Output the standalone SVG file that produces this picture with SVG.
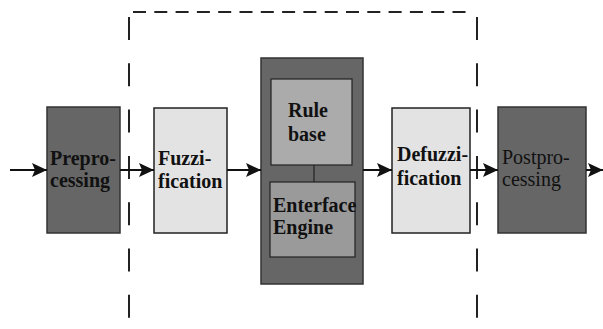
<svg xmlns="http://www.w3.org/2000/svg" width="603" height="329" viewBox="0 0 603 329">
  <defs>
    <marker id="head" markerUnits="userSpaceOnUse" markerWidth="16" markerHeight="16" refX="15" refY="7" orient="auto">
      <path d="M0,0 L15,7 L0,14 L3,7 z" fill="#111"/>
    </marker>
    <style>
      .dark { fill: #666666; stroke: #333333; stroke-width: 1.5; }
      .light { fill: #e3e3e3; stroke: #222222; stroke-width: 1.5; }
      .rule { fill: #ababab; stroke: #222222; stroke-width: 1.2; }
      .engine { fill: #9a9a9a; stroke: #222222; stroke-width: 1.2; }
      .lbl { font-family: "Liberation Serif", "Times New Roman", serif; font-size: 20px; font-weight: bold; fill: #111111; }
      .lbl-n { font-family: "Liberation Serif", "Times New Roman", serif; font-size: 20px; fill: #111111; }
      .flow { stroke: #111111; stroke-width: 2; fill: none; marker-end: url(#head); }
      .dash-v { stroke: #222222; stroke-width: 2; fill: none; stroke-dasharray: 23 23.3; }
      .dash-h { stroke: #222222; stroke-width: 2; fill: none; stroke-dasharray: 13 8.3; }
    </style>
  </defs>

  <rect width="603" height="329" fill="#ffffff"/>

  <!-- fuzzy controller boundary -->
  <g id="boundary">
    <path class="dash-h" d="M133,12 H466"/>
    <path class="dash-v" d="M129,17 V329"/>
    <path class="dash-v" d="M477,17 V329"/>
  </g>

  <g id="preprocessing">
    <rect class="dark" x="47" y="107" width="73" height="126"/>
    <text class="lbl" x="50" y="165">Prepro-</text>
    <text class="lbl" x="50" y="187">cessing</text>
  </g>

  <g id="fuzzification">
    <rect class="light" x="154" y="108" width="73" height="125"/>
    <text class="lbl" x="158" y="165">Fuzzi-</text>
    <text class="lbl" x="158" y="188">fication</text>
  </g>

  <g id="inference">
    <rect class="dark" x="261" y="58" width="102" height="226"/>
    <g id="rule-base">
      <rect class="rule" x="271" y="79" width="81" height="86"/>
      <text class="lbl" x="288" y="117">Rule</text>
      <text class="lbl" x="288" y="141">base</text>
    </g>
    <line x1="314" y1="165" x2="314" y2="182" stroke="#222222" stroke-width="1.2"/>
    <g id="enterface-engine">
      <rect class="engine" x="270" y="182" width="85" height="75"/>
      <text class="lbl" x="273" y="212">Enterface</text>
      <text class="lbl" x="273" y="234">Engine</text>
    </g>
  </g>

  <g id="defuzzification">
    <rect class="light" x="392" y="108" width="78" height="125"/>
    <text class="lbl" x="397" y="161">Defuzzi-</text>
    <text class="lbl" x="397" y="185">fication</text>
  </g>

  <g id="postprocessing">
    <rect class="dark" x="498" y="107" width="88" height="126"/>
    <text class="lbl-n" x="502" y="164">Postpro-</text>
    <text class="lbl-n" x="502" y="186">cessing</text>
  </g>

  <g id="connectors">
    <path class="flow" d="M10,170 H47"/>
    <path class="flow" d="M120,170 H154"/>
    <path class="flow" d="M227,170 H261"/>
    <path class="flow" d="M363,170 H392"/>
    <path class="flow" d="M470,170 H498"/>
    <path class="flow" d="M586,170 H603"/>
  </g>
</svg>
